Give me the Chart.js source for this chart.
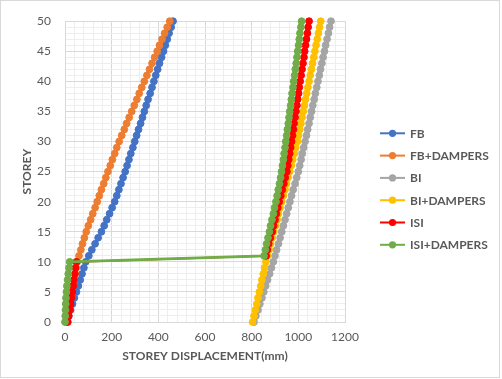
<!DOCTYPE html>
<html><head><meta charset="utf-8">
<script src="https://cdn.jsdelivr.net/npm/chart.js@4.4.0/dist/chart.umd.min.js"></script>
<style>html,body{margin:0;padding:0;background:#fff;}canvas{display:block;}</style>
</head><body>
<canvas id="c" width="502" height="379"></canvas>
<script>
const storeys = [0,1,2,3,4,5,6,7,8,9,10,11,12,13,14,15,16,17,18,19,20,21,22,23,24,25,26,27,28,29,30,31,32,33,34,35,36,37,38,39,40,41,42,43,44,45,46,47,48,49,50];
const seriesNames = ['FB','FB+DAMPERS','BI','BI+DAMPERS','ISI','ISI+DAMPERS'];
const seriesColors = ['#4472C4','#ED7D31','#A5A5A5','#FFC000','#FF0000','#70AD47'];
const xTickLabels = [0,200,400,600,800,1000,1200];
const yTickLabels = [0,5,10,15,20,25,30,35,40,45,50];

const fb = [8,16,24,32,40,49,57,65,73,81,89, 102,115,129,142,156,168,179,191,202,213, 222,231,240,249,258,266,274,282,291,299, 307,315,324,332,340,348,356,365,373,381,389,397,405,414,422,430,438,446,455,463];
const fbDampers = [5,10,15,20,25,29,34,39,44,48,53, 60,68,75,83,91,100,110,119,129,138, 147,156,166,175,184,194,203,213,222,232, 243,254,264,275,286,297,308,318,329,340,351,362,373,384,395,405,416,427,438,449];
const bi = [810,818,827,835,844,852,860,868,877,885,893, 900,907,915,922,929,936,943,950,957,964, 971,978,986,993,1000,1006,1012,1017,1023,1029, 1035,1040,1046,1051,1057,1062,1068,1073,1079,1084,1090,1095,1101,1106,1112,1117,1123,1129,1134,1140];
const biDampers = [804,810,816,822,827,833,839,844,850,855,861, 868,875,881,888,895,902,909,915,922,929, 936,943,949,956,963,970,976,983,989,996, 1001,1006,1011,1016,1021,1026,1031,1036,1041,1046,1051,1056,1061,1066,1071,1076,1081,1086,1091,1096];
const isi = [12,16,20,24,27,31,35,38,42,45,49, 862,867,873,880,888,894,900,906,912,918, 925,931,938,944,951,955,959,963,967,971, 975,979,982,986,990,994,997,1001,1004,1008,1012,1016,1020,1024,1027,1031,1035,1039,1042,1046];
const isiDampers = [0,1,2,3,4,6,8,11,14,17,20, 853,859,864,870,876,881,887,893,898,904, 909,914,919,924,928,932,936,939,943,946, 950,953,957,960,963,967,970,973,977,980,984,987,991,994,997,1001,1004,1007,1011,1014];

const allSeries = [fb, fbDampers, bi, biDampers, isi, isiDampers];
const lineWidths = [2, 2, 2, 2, 1.8, 2.8];
const TXT = '#595959';
const FONT = 'Lato, "Open Sans", sans-serif';

const datasets = allSeries.map((vals, i) => ({
  label: seriesNames[i],
  data: storeys.map((s, k) => ({x: vals[k], y: s})),
  borderColor: seriesColors[i],
  backgroundColor: seriesColors[i],
  pointBackgroundColor: seriesColors[i],
  pointBorderColor: seriesColors[i],
  pointRadius: 3.4,
  pointHoverRadius: 3.4,
  pointBorderWidth: 1,
  borderWidth: lineWidths[i],
  tension: 0,
  clip: false,
  order: seriesNames.length - i
}));

const decoPlugin = {
  id: 'deco',
  beforeDraw(chart) {
    const ctx = chart.ctx;
    ctx.save();
    ctx.fillStyle = '#ffffff';
    ctx.fillRect(0, 0, chart.width, chart.height);
    ctx.restore();
  },
  afterDraw(chart) {
    const ctx = chart.ctx;
    ctx.save();
    ctx.strokeStyle = '#d9d9d9';
    ctx.lineWidth = 1;
    ctx.strokeRect(0.5, 0.5, 499, 377);
    // legend
    const x0 = 380, x1 = 405, tx = 410, y0 = 133.3, dy = 22.3;
    ctx.font = 'bold 12px ' + FONT;
    ctx.textBaseline = 'middle';
    ctx.textAlign = 'left';
    seriesNames.forEach((name, i) => {
      const y = y0 + i * dy;
      ctx.strokeStyle = seriesColors[i];
      ctx.lineWidth = 2;
      ctx.beginPath(); ctx.moveTo(x0, y); ctx.lineTo(x1, y); ctx.stroke();
      ctx.fillStyle = seriesColors[i];
      ctx.beginPath(); ctx.arc((x0 + x1) / 2, y, 3.6, 0, Math.PI * 2); ctx.fill();
      ctx.fillStyle = TXT;
      ctx.fillText(name, tx, y + 0.5);
    });
    ctx.restore();
  }
};

new Chart(document.getElementById('c'), {
  type: 'line',
  data: { datasets },
  plugins: [decoPlugin],
  options: {
    responsive: false,
    animation: false,
    devicePixelRatio: 1,
    layout: { padding: { left: 0, top: 14, right: 157, bottom: 0 } },
    plugins: { legend: { display: false }, tooltip: { enabled: false } },
    scales: {
      x: {
        type: 'linear', min: 0, max: 1200,
        afterFit(s) { s.height = 57; },
        ticks: {
          stepSize: 40, autoSkip: false, maxRotation: 0, padding: 8,
          color: TXT, font: { family: FONT, size: 12 },
          callback: v => xTickLabels.includes(v) ? String(v) : ''
        },
        grid: {
          drawTicks: false,
          color: c => (c.tick && xTickLabels.includes(c.tick.value)) ? '#d9d9d9' : '#eeeeee',
          lineWidth: 1
        },
        border: { color: '#d9d9d9' },
        title: { display: true, text: 'STOREY DISPLACEMENT(mm)', color: TXT,
          font: { family: FONT, size: 12, weight: 'bold' }, padding: { top: 0, bottom: 16 } }
      },
      y: {
        type: 'linear', min: 0, max: 50,
        afterFit(s) { s.width = 65; },
        ticks: {
          stepSize: 1, autoSkip: false, padding: 14,
          color: TXT, font: { family: FONT, size: 12 },
          callback: v => yTickLabels.includes(v) ? String(v) : ''
        },
        grid: {
          drawTicks: false,
          color: c => (c.tick && yTickLabels.includes(c.tick.value)) ? '#d9d9d9' : '#eeeeee',
          lineWidth: 1
        },
        border: { color: '#d9d9d9' },
        title: { display: true, text: 'STOREY', color: TXT,
          font: { family: FONT, size: 12, weight: 'bold' }, padding: { top: 20, bottom: 0 } }
      }
    }
  }
});
</script>
</body></html>
